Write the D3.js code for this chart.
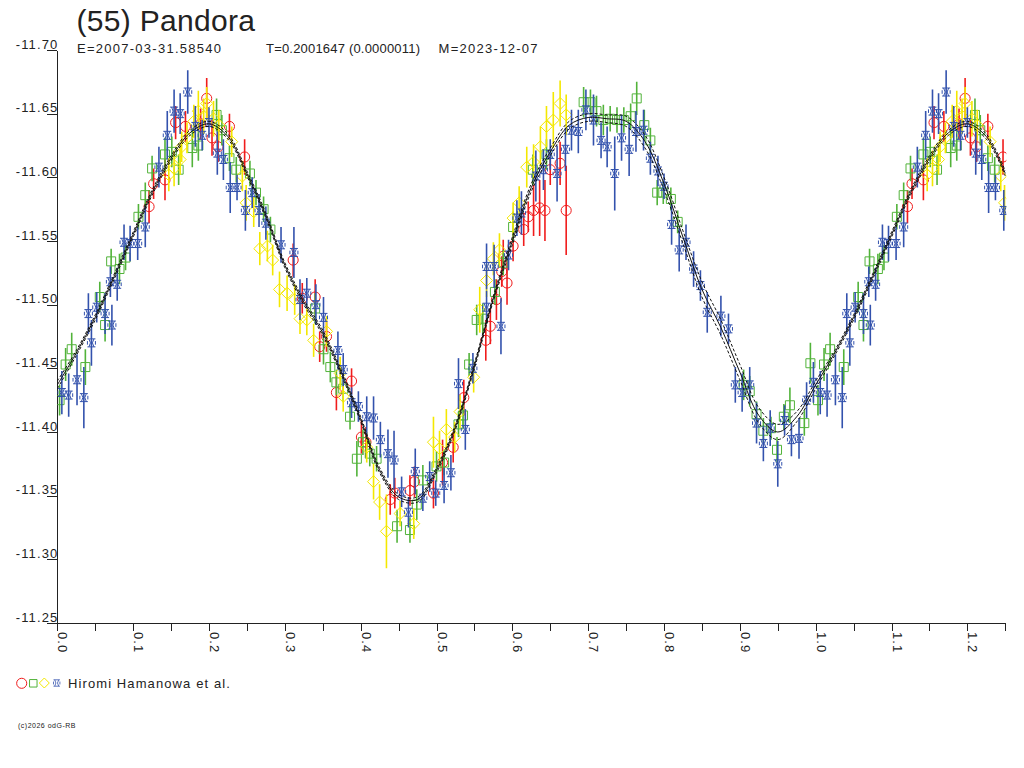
<!DOCTYPE html>
<html>
<head>
<meta charset="utf-8">
<script src="https://cdn.jsdelivr.net/npm/d3@7"></script>
<style>
body { margin: 0; background: #fff; }
text { font-family: "Liberation Sans", Arial, sans-serif; fill: #222; }
</style>
</head>
<body>
<script>
// lightcurve of (55) Pandora, folded on T=0.2001647 d
// each observation: [phase, magnitude, error]
var titleText = "(55) Pandora";
var subEpoch = "E=2007-03-31.58540",
    subPeriod = "T=0.2001647 (0.0000011)",
    subMade = "M=2023-12-07";
var observer = "Hiromi Hamanowa et al.";

var xTicks = [0,0.05,0.1,0.15,0.2,0.25,0.3,0.35,0.4,0.45,0.5,0.55,0.6,0.65,0.7,0.75,0.8,0.85,0.9,0.95,1.0,1.05,1.1,1.15,1.2,1.25];
var xLabels = ["0.0","0.1","0.2","0.3","0.4","0.5","0.6","0.7","0.8","0.9","1.0","1.1","1.2"];
var yTicks = [-11.70,-11.65,-11.60,-11.55,-11.50,-11.45,-11.40,-11.35,-11.30,-11.25];

// fitted curve (middle) and half width of the band
var fitPhase = [0,0.025,0.05,0.075,0.1,0.125,0.15,0.175,0.2,0.225,0.25,0.275,0.3,0.325,0.35,0.375,0.4,0.425,0.45,0.475,0.5,0.525,0.55,0.575,0.6,0.625,0.65,0.675,0.7,0.725,0.75,0.775,0.8,0.825,0.85,0.875,0.9,0.925,0.95,0.975,1.0];
var fitMag = [-11.437,-11.462,-11.490,-11.522,-11.555,-11.588,-11.615,-11.635,-11.642,-11.632,-11.603,-11.570,-11.531,-11.502,-11.478,-11.446,-11.410,-11.370,-11.349,-11.347,-11.370,-11.404,-11.452,-11.505,-11.550,-11.592,-11.620,-11.641,-11.647,-11.646,-11.644,-11.628,-11.595,-11.553,-11.512,-11.482,-11.447,-11.413,-11.400,-11.412,-11.437];
var fitBand = [0.003,0.002,0.002,0.002,0.002,0.002,0.002,0.002,0.002,0.002,0.002,0.002,0.002,0.002,0.002,0.002,0.002,0.002,0.002,0.002,0.002,0.002,0.002,0.002,0.003,0.003,0.003,0.003,0.003,0.003,0.004,0.005,0.005,0.005,0.006,0.006,0.006,0.006,0.006,0.004,0.003];

var redObs = [[0.197,-11.662,0.016],[0.156,-11.643,0.013],[0.169,-11.640,0.012],[0.189,-11.642,0.012],[0.227,-11.640,0.010],[0.204,-11.631,0.014],[0.212,-11.624,0.012],[0.247,-11.616,0.014],[0.142,-11.598,0.016],[0.127,-11.595,0.012],[0.121,-11.577,0.013],[0.311,-11.535,0.013],[0.323,-11.505,0.012],[0.340,-11.506,0.014],[0.346,-11.467,0.012],[0.355,-11.475,0.012],[0.388,-11.440,0.010],[0.368,-11.431,0.014],[0.401,-11.396,0.013],[0.407,-11.392,0.012],[0.439,-11.347,0.012],[0.445,-11.352,0.012],[0.465,-11.354,0.012],[0.471,-11.361,0.012],[0.496,-11.352,0.012],[0.508,-11.376,0.018],[0.522,-11.388,0.012],[0.536,-11.427,0.014],[0.565,-11.472,0.016],[0.571,-11.483,0.014],[0.579,-11.504,0.016],[0.593,-11.517,0.017],[0.586,-11.526,0.012],[0.601,-11.546,0.012],[0.615,-11.559,0.013],[0.621,-11.569,0.012],[0.628,-11.574,0.020],[0.636,-11.576,0.022],[0.643,-11.574,0.024],[0.650,-11.606,0.012],[0.663,-11.611,0.017],[0.671,-11.574,0.035],[0.588,-11.538,0.013]];

var greenObs = [[0.019,-11.465,0.013],[0.011,-11.453,0.013],[0.037,-11.451,0.014],[0.003,-11.425,0.012],[0.063,-11.484,0.013],[0.071,-11.534,0.010],[0.082,-11.528,0.012],[0.090,-11.537,0.010],[0.107,-11.569,0.010],[0.116,-11.586,0.010],[0.125,-11.607,0.010],[0.142,-11.618,0.013],[0.151,-11.620,0.012],[0.160,-11.606,0.012],[0.178,-11.623,0.015],[0.186,-11.625,0.012],[0.210,-11.649,0.013],[0.217,-11.637,0.012],[0.227,-11.615,0.010],[0.236,-11.606,0.010],[0.254,-11.603,0.010],[0.262,-11.588,0.010],[0.272,-11.575,0.010],[0.281,-11.559,0.010],[0.056,-11.506,0.012],
  [0.340,-11.497,0.012],[0.351,-11.465,0.012],[0.360,-11.451,0.012],[0.368,-11.439,0.010],[0.377,-11.434,0.010],[0.386,-11.412,0.010],[0.395,-11.379,0.014],[0.403,-11.392,0.010],[0.412,-11.383,0.010],[0.421,-11.379,0.010],[0.448,-11.326,0.013],[0.465,-11.323,0.010],[0.474,-11.343,0.012],[0.482,-11.362,0.012],[0.500,-11.373,0.012],[0.510,-11.376,0.010],[0.529,-11.406,0.010],[0.535,-11.413,0.010],[0.543,-11.453,0.009],[0.553,-11.488,0.012],[0.561,-11.489,0.012],[0.577,-11.510,0.010],[0.588,-11.533,0.010],
  [0.601,-11.561,0.012],[0.627,-11.606,0.012],[0.645,-11.618,0.012],[0.694,-11.659,0.012],[0.703,-11.659,0.010],[0.711,-11.652,0.012],[0.720,-11.645,0.012],[0.729,-11.646,0.010],[0.738,-11.645,0.010],[0.747,-11.645,0.010],[0.756,-11.648,0.010],[0.764,-11.662,0.013],[0.774,-11.641,0.012],[0.782,-11.629,0.010],[0.791,-11.588,0.010],[0.799,-11.588,0.009],[0.809,-11.583,0.009],[0.818,-11.565,0.009],
  [0.905,-11.437,0.012],[0.913,-11.432,0.012],[0.922,-11.414,0.010],[0.931,-11.401,0.010],[0.941,-11.403,0.009],[0.949,-11.386,0.010],[0.958,-11.412,0.010],[0.966,-11.421,0.014],[0.985,-11.407,0.010],[0.993,-11.454,0.016]];

var yellowObs = [[0.197,-11.658,0.013],[0.186,-11.652,0.016],[0.193,-11.648,0.014],[0.180,-11.644,0.013],[0.206,-11.646,0.014],[0.213,-11.641,0.012],[0.230,-11.628,0.012],[0.171,-11.631,0.012],[0.164,-11.624,0.012],[0.162,-11.614,0.012],[0.154,-11.607,0.014],[0.147,-11.602,0.013],[0.244,-11.601,0.012],[0.249,-11.580,0.014],[0.259,-11.573,0.012],[0.267,-11.544,0.013],[0.277,-11.546,0.012],[0.284,-11.535,0.012],[0.293,-11.512,0.014],[0.303,-11.509,0.014],[0.313,-11.504,0.012],[0.320,-11.489,0.012],[0.329,-11.488,0.012],
  [0.338,-11.472,0.013],[0.355,-11.479,0.012],[0.373,-11.446,0.013],[0.377,-11.428,0.012],[0.408,-11.388,0.012],[0.417,-11.361,0.014],[0.425,-11.345,0.014],[0.434,-11.322,0.029],[0.452,-11.336,0.010],[0.470,-11.328,0.012],[0.496,-11.392,0.020],[0.504,-11.387,0.014],[0.513,-11.402,0.016],[0.524,-11.396,0.012],[0.531,-11.416,0.013],[0.549,-11.443,0.012],[0.557,-11.496,0.018],[0.566,-11.519,0.013],[0.575,-11.536,0.013],[0.583,-11.543,0.013],
  [0.601,-11.568,0.012],[0.609,-11.580,0.013],[0.619,-11.608,0.016],[0.628,-11.612,0.014],[0.637,-11.624,0.016],[0.645,-11.640,0.016],[0.654,-11.645,0.022],[0.663,-11.658,0.018],[0.671,-11.649,0.016]];

var blueObs = [[0.172,-11.667,0.017],[0.154,-11.652,0.017],[0.162,-11.650,0.016],[0.145,-11.633,0.019],[0.182,-11.640,0.016],[0.200,-11.643,0.012],[0.191,-11.633,0.012],[0.211,-11.619,0.017],[0.219,-11.614,0.016],[0.228,-11.592,0.020],[0.237,-11.592,0.010],[0.248,-11.574,0.016],[0.266,-11.574,0.013],[0.257,-11.588,0.012],[0.275,-11.564,0.013],[0.295,-11.547,0.014],[0.312,-11.541,0.020],[0.320,-11.504,0.016],[0.329,-11.509,0.012],[0.134,-11.608,0.016],[0.116,-11.561,0.016],[0.088,-11.549,0.014],[0.096,-11.548,0.014],[0.106,-11.548,0.013],[0.070,-11.518,0.012],[0.079,-11.516,0.013],[0.041,-11.493,0.016],[0.052,-11.498,0.012],[0.063,-11.493,0.016],[0.072,-11.484,0.016],
  [0.045,-11.470,0.018],[0.026,-11.441,0.020],[0.006,-11.431,0.017],[0.015,-11.429,0.017],[0.035,-11.427,0.024],
  [0.341,-11.500,0.016],[0.351,-11.490,0.016],[0.370,-11.464,0.015],[0.377,-11.449,0.013],[0.388,-11.423,0.012],[0.397,-11.420,0.012],[0.408,-11.412,0.016],[0.417,-11.411,0.017],[0.426,-11.394,0.014],[0.436,-11.383,0.019],[0.444,-11.378,0.023],[0.454,-11.353,0.012],[0.463,-11.337,0.012],[0.472,-11.369,0.018],[0.482,-11.348,0.010],[0.491,-11.365,0.012],[0.499,-11.352,0.010],[0.510,-11.358,0.014],[0.519,-11.368,0.014],[0.538,-11.402,0.016],[0.529,-11.438,0.020],[0.548,-11.450,0.012],[0.566,-11.498,0.013],[0.585,-11.483,0.022],[0.566,-11.530,0.018],[0.576,-11.530,0.017],[0.595,-11.539,0.012],
  [0.612,-11.572,0.017],[0.606,-11.568,0.014],[0.631,-11.601,0.020],[0.641,-11.606,0.016],[0.650,-11.618,0.012],[0.659,-11.603,0.022],[0.670,-11.622,0.017],[0.678,-11.637,0.016],[0.687,-11.636,0.017],[0.697,-11.653,0.016],[0.707,-11.645,0.020],[0.717,-11.629,0.014],[0.725,-11.624,0.016],[0.735,-11.603,0.029],[0.744,-11.631,0.018],[0.754,-11.622,0.021],[0.763,-11.636,0.016],[0.773,-11.637,0.016],[0.782,-11.615,0.013],[0.792,-11.605,0.012],[0.800,-11.593,0.010],[0.810,-11.563,0.016],[0.820,-11.543,0.017],[0.829,-11.549,0.014],[0.839,-11.528,0.014],[0.848,-11.515,0.012],[0.857,-11.494,0.016],[0.875,-11.491,0.016],[0.885,-11.481,0.012],
  [0.894,-11.437,0.014],[0.913,-11.437,0.014],[0.903,-11.431,0.015],[0.922,-11.407,0.016],[0.931,-11.391,0.014],[0.940,-11.403,0.014],[0.950,-11.375,0.018],[0.959,-11.409,0.012],[0.968,-11.394,0.013],[0.978,-11.395,0.016],[0.988,-11.425,0.014],[0.997,-11.439,0.016]];

// layout
var W = 1024, H = 768;
var plotLeft = 57.3, plotRight = 1005.3, plotTop = 50, plotBottom = 623;

var svg = d3.select("body").append("svg")
    .attr("width", W)
    .attr("height", H);

var x = d3.scaleLinear().domain([0, 1.25]).range([plotLeft, plotRight]);
var y = d3.scaleLinear().domain([-11.70, -11.25]).range([plotTop, plotBottom]);

// phases 1.0-1.25 repeat the start of the cycle
function wrap(list) {
  var out = list.slice();
  list.forEach(function(d) {
    if (d[0] + 1 <= 1.25) out.push([d[0] + 1, d[1], d[2]]);
  });
  return out;
}

// titles
svg.append("text").attr("x", 76.5).attr("y", 31)
    .style("font-size", "30px").style("letter-spacing", "0.3px")
    .text(titleText);
var sub = svg.append("g").style("font-size", "13px");
sub.append("text").attr("x", 77).attr("y", 53)
    .attr("textLength", 144).attr("lengthAdjust", "spacing").text(subEpoch);
sub.append("text").attr("x", 266).attr("y", 53)
    .attr("textLength", 154).attr("lengthAdjust", "spacing").text(subPeriod);
sub.append("text").attr("x", 438.6).attr("y", 53)
    .attr("textLength", 99).attr("lengthAdjust", "spacing").text(subMade);

// axes
var yAxis = svg.append("g")
    .attr("transform", "translate(" + plotLeft + ",0)")
    .call(d3.axisLeft(y).tickValues(yTicks).tickSize(10).tickSizeOuter(0)
      .tickFormat(function(d) { return d.toFixed(2); }));
yAxis.selectAll("text")
    .attr("x", 1).attr("dy", "-2")
    .style("font-family", "Liberation Sans, Arial, sans-serif")
    .style("font-size", "13px").style("letter-spacing", "1.1px")
    .attr("fill", "#222");

var xAxis = svg.append("g")
    .attr("transform", "translate(0," + plotBottom + ")")
    .call(d3.axisBottom(x).tickValues(xTicks).tickSize(8).tickSizeOuter(0).tickFormat(""));

svg.selectAll(".domain, .tick line").attr("stroke", "#222").attr("shape-rendering", "crispEdges");

svg.append("g").selectAll("text")
    .data(xLabels)
  .enter().append("text")
    .attr("transform", function(d) { return "translate(" + (x(+d) + 1) + "," + (plotBottom + 9) + ") rotate(90)"; })
    .style("font-size", "13px").style("letter-spacing", "1.1px")
    .text(function(d) { return d; });

// plot area
svg.append("clipPath").attr("id", "clip")
  .append("rect").attr("x", plotLeft).attr("y", plotTop - 40)
    .attr("width", plotRight - plotLeft + 1).attr("height", plotBottom - plotTop + 40);
var plot = svg.append("g").attr("clip-path", "url(#clip)");

var circlePath = d3.symbol(d3.symbolCircle, 80)();
var squarePath = d3.symbol(d3.symbolSquare, 81)();
var diamondPath = "M0,-6L6,0L0,6L-6,0Z";
var starPath = "M-4,-4H4M-4,4H4M-2.5,-4L-1,0L-2.5,4M2.5,-4L1,0L2.5,4M-4,-1.8V1.8M4,-1.8V1.8";

function drawSeries(list, color, shape) {
  var data = wrap(list);
  var g = plot.append("g");
  g.selectAll("line").data(data)
    .enter().append("line")
      .attr("x1", d => x(d[0])).attr("x2", d => x(d[0]))
      .attr("y1", d => y(d[1] - d[2])).attr("y2", d => y(d[1] + d[2]))
      .attr("stroke", color).attr("stroke-width", 1.6);
  g.selectAll("path").data(data)
    .enter().append("path")
      .attr("transform", d => "translate(" + x(d[0]) + "," + y(d[1]) + ")")
      .attr("d", shape)
      .attr("fill", "none").attr("stroke", color).attr("stroke-width", 1);
}

drawSeries(redObs, "#f01c1c", circlePath);
drawSeries(greenObs, "#52b33a", squarePath);
drawSeries(yellowObs, "#f4e800", diamondPath);
drawSeries(blueObs, "#3352ad", starPath);

// fitted curve with band
var fit = fitPhase.map((p, i) => [p, fitMag[i], fitBand[i]]);
fit = fit.concat(fit.filter(d => d[0] > 0 && d[0] <= 0.25).map(d => [d[0] + 1, d[1], d[2]]));

[-1, 1].forEach(function(k) {
  plot.append("path")
    .datum(fit)
    .attr("d", d3.line().x(d => x(d[0])).y(d => y(d[1] + k * d[2])).curve(d3.curveCatmullRom))
    .attr("fill", "none").attr("stroke", "#111").attr("stroke-width", 1)
    .attr("stroke-dasharray", "3,2");
});
plot.append("path")
    .datum(fit)
    .attr("d", d3.line().x(d => x(d[0])).y(d => y(d[1])).curve(d3.curveCatmullRom))
    .attr("fill", "none").attr("stroke", "#111").attr("stroke-width", 1);

// legend
var leg = svg.append("g");
leg.append("path").attr("transform", "translate(21.7,683.3)").attr("d", d3.symbol(d3.symbolCircle, 80)())
    .attr("fill", "none").attr("stroke", "#f01c1c");
leg.append("path").attr("transform", "translate(33.3,683.3)").attr("d", d3.symbol(d3.symbolSquare, 56)())
    .attr("fill", "none").attr("stroke", "#52b33a");
leg.append("path").attr("transform", "translate(44.3,683)").attr("d", "M0,-5L5,0L0,5L-5,0Z")
    .attr("fill", "none").attr("stroke", "#f4e800");
leg.append("path").attr("transform", "translate(56.7,683) scale(0.8)").attr("d", starPath)
    .attr("fill", "none").attr("stroke", "#3352ad");
leg.append("text").attr("x", 68).attr("y", 688)
    .style("font-size", "13px").style("letter-spacing", "1.1px")
    .text(observer);

svg.append("text").attr("x", 18).attr("y", 728)
    .style("font-size", "7px").style("letter-spacing", "0.5px")
    .text("(c)2026 odG-RB");
</script>
</body>
</html>
